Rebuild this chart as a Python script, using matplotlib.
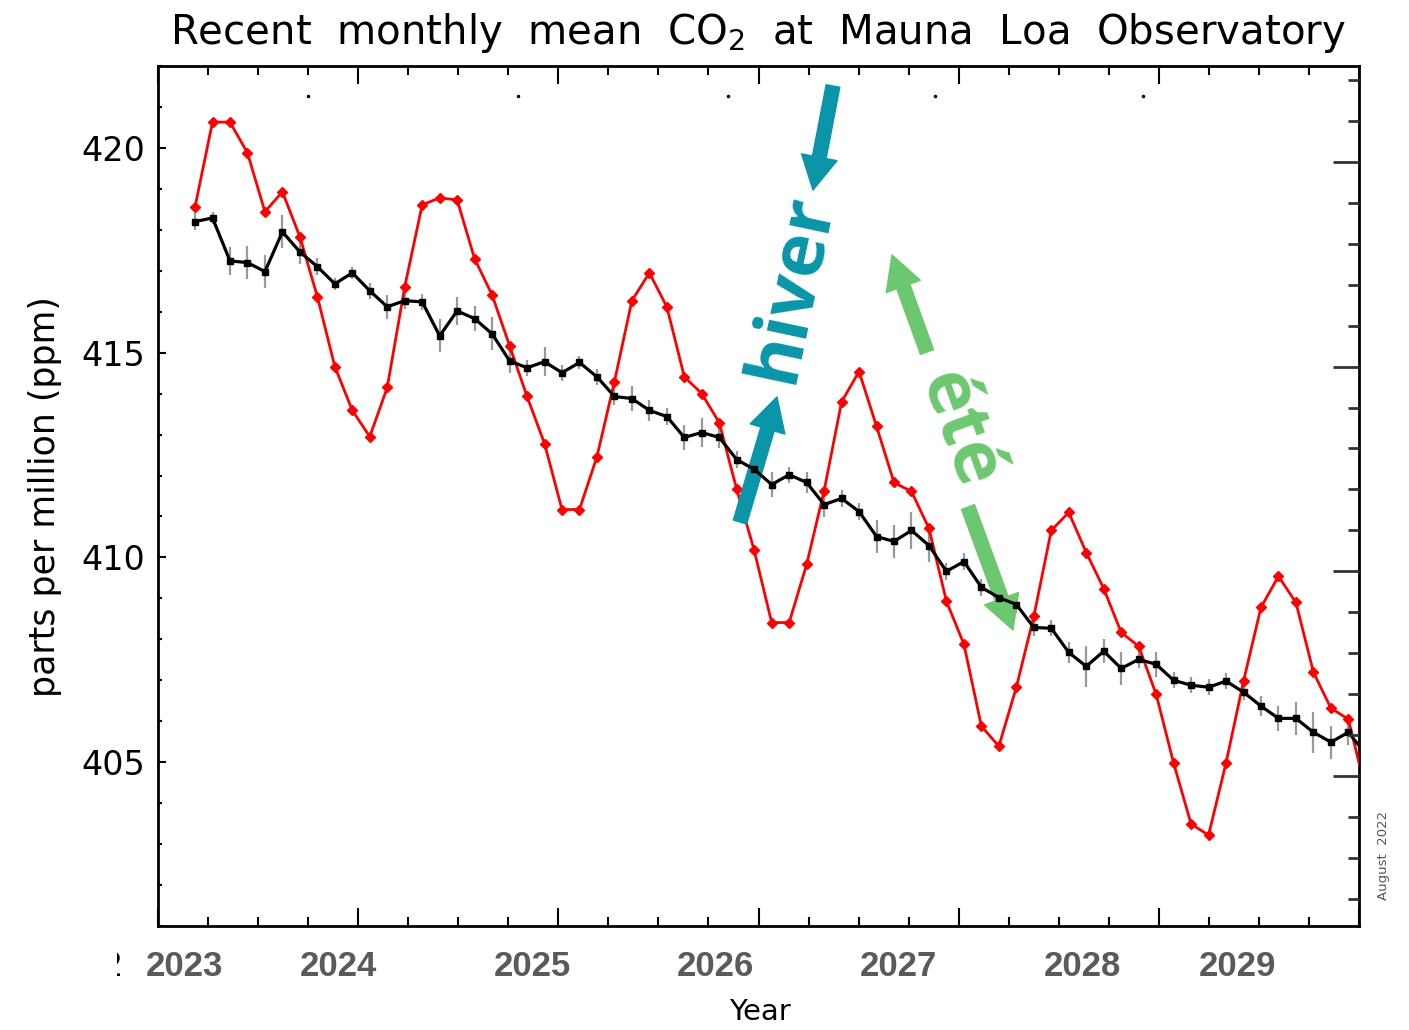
import numpy as np
import matplotlib.pyplot as plt
from matplotlib.ticker import MultipleLocator
from matplotlib.transforms import Bbox, TransformedBbox

W, H = 1409, 1030

# Monthly mean CO2 (red) and seasonally corrected trend (black), ppm
monthly_mean = [418.56, 420.63, 420.63, 419.88, 418.44, 418.93, 417.83, 416.37, 414.66, 413.59,
                412.95, 414.15, 416.61, 418.61, 418.78, 418.73, 417.29, 416.41, 415.17, 413.93,
                412.78, 411.17, 411.17, 412.46, 414.29, 416.27, 416.95, 416.12, 414.41, 414.00,
                413.29, 411.66, 410.17, 408.41, 408.41, 409.83, 411.63, 413.80, 414.54, 413.20,
                411.83, 411.61, 410.71, 408.93, 407.88, 405.88, 405.39, 406.83, 408.56, 410.66,
                411.10, 410.12, 409.24, 408.17, 407.83, 406.66, 404.98, 403.49, 403.22, 404.98,
                406.98, 408.78, 409.54, 408.90, 407.20, 406.32, 406.05, 404.30]

trend = [418.20, 418.29, 417.24, 417.20, 416.98, 417.95, 417.46, 417.10, 416.68, 416.95,
         416.51, 416.12, 416.27, 416.24, 415.41, 416.02, 415.83, 415.46, 414.80, 414.63,
         414.78, 414.51, 414.76, 414.41, 413.93, 413.88, 413.59, 413.44, 412.93, 413.05,
         412.93, 412.39, 412.15, 411.78, 412.02, 411.83, 411.29, 411.44, 411.12, 410.51,
         410.39, 410.66, 410.29, 409.66, 409.90, 409.27, 409.02, 408.85, 408.29, 408.27,
         407.68, 407.34, 407.71, 407.29, 407.51, 407.39, 407.00, 406.88, 406.83, 406.98,
         406.71, 406.37, 406.07, 406.07, 405.73, 405.49, 405.73, 405.20]

trend_err = [0.20, 0.15, 0.35, 0.40, 0.40, 0.40, 0.30, 0.20, 0.15, 0.15,
             0.20, 0.30, 0.20, 0.20, 0.40, 0.35, 0.30, 0.40, 0.30, 0.20,
             0.35, 0.20, 0.15, 0.20, 0.20, 0.30, 0.25, 0.20, 0.30, 0.35,
             0.25, 0.20, 0.20, 0.30, 0.20, 0.25, 0.30, 0.20, 0.20, 0.40,
             0.40, 0.45, 0.40, 0.20, 0.20, 0.20, 0.20, 0.20, 0.20, 0.20,
             0.25, 0.50, 0.30, 0.40, 0.20, 0.30, 0.20, 0.20, 0.20, 0.20,
             0.20, 0.25, 0.30, 0.40, 0.50, 0.40, 0.30, 0.30]

# month positions on the (mirrored) time axis, in axis-year units
first_month = 0.185
month_step = 0.0873
t = first_month + month_step * np.arange(len(monthly_mean))

# stray dots near the top of the frame
top_dot_x = [0.75, 1.80, 2.85, 3.88, 4.92]
top_dot_y = 421.27

year_labels = ["2023", "2024", "2025", "2026", "2027", "2028", "2029"]
year_label_px = [184, 338, 532, 715, 898, 1082, 1237]

TEAL = "#0a95a8"
GREEN = "#6cc870"

fig = plt.figure(figsize=(W / 100, H / 100), dpi=100)
ax = fig.add_axes([158 / W, 1 - 926 / H, (1359 - 158) / W, (926 - 66) / H])
ax.set_xlim(0, 6)
ax.set_ylim(401.0, 422.0)

ax.errorbar(t, trend, yerr=trend_err, fmt="none", ecolor="#999999", elinewidth=1.6, zorder=2)
ax.plot(t, monthly_mean, color="#ff0000", lw=2.0, marker="D", ms=5.5, zorder=3)
ax.plot(t, trend, color="black", lw=2.3, marker="s", ms=4.5, zorder=4)
ax.plot(top_dot_x, [top_dot_y] * len(top_dot_x), "k.", ms=3, zorder=4)

ax.xaxis.set_major_locator(MultipleLocator(1))
ax.xaxis.set_minor_locator(MultipleLocator(0.25))
ax.yaxis.set_major_locator(MultipleLocator(5))
ax.yaxis.set_minor_locator(MultipleLocator(1))
ax.tick_params(axis="x", which="both", direction="in", top=True, bottom=True,
               labelbottom=False, width=1.5)
ax.tick_params(axis="x", which="major", length=13)
ax.tick_params(axis="x", which="minor", length=6.5)
ax.tick_params(axis="y", which="both", direction="in", left=True, right=True, width=1.5)
ax.tick_params(axis="y", which="major", length=6, labelsize=24, pad=9)
ax.tick_params(axis="y", which="minor", length=3)
for s in ax.spines.values():
    s.set_linewidth(2)

# second, slightly shifted set of ticks on the right frame
ax2 = ax.twinx()
ax2.set_ylim(401.0 + 0.34, 422.0 + 0.34)
ax2.yaxis.set_major_locator(MultipleLocator(5))
ax2.yaxis.set_minor_locator(MultipleLocator(1))
ax2.tick_params(which="both", direction="in", labelright=False, width=2, color="#333333")
ax2.tick_params(which="major", length=19)
ax2.tick_params(which="minor", length=8)
for s in ax2.spines.values():
    s.set_visible(False)

fig.text(758 / W, 1 - 33 / H, "Recent  monthly  mean  CO$_2$  at  Mauna  Loa  Observatory",
         fontsize=29, ha="center", va="center")
fig.text(45 / W, 1 - 497 / H, "parts per million (ppm)", rotation=90,
         fontsize=25, ha="center", va="center")
fig.text(760 / W, 1 - 1012 / H, "Year", fontsize=21, ha="center", va="center")
fig.text(1383 / W, 1 - 855 / H, "August  2022", rotation=90, fontsize=9.5,
         color="#555555", ha="center", va="center")

frag = fig.text(112 / W, 1 - 967 / H, "2", fontsize=24, ha="center", va="center")
frag.set_clip_box(TransformedBbox(Bbox([[117 / W, 0], [1, 1]]), fig.transFigure))
frag.set_clip_on(True)

for lab, px in zip(year_labels, year_label_px):
    fig.text(px / W, 1 - 967 / H, lab, fontsize=25, fontweight="bold",
             family="Liberation Sans", color="#5a5a5a", ha="center", va="center")


def arrow(tail, tip, color):
    ax.annotate("", xy=(tip[0], H - tip[1]), xycoords="figure pixels",
                xytext=(tail[0], H - tail[1]), textcoords="figure pixels",
                arrowprops=dict(arrowstyle="simple,head_width=2.6,head_length=2.4,tail_width=1.0",
                                mutation_scale=10, color=color, shrinkA=0, shrinkB=0))


arrow((740, 522), (777, 397), TEAL)
arrow((833, 86), (813, 190), TEAL)
arrow((927, 352), (892, 255), GREEN)
arrow((968, 507), (1013, 630), GREEN)

fig.text(792 / W, 1 - 288 / H, "hiver", rotation=78, fontsize=53, family="Open Sans",
         fontweight="bold", color=TEAL, ha="center", va="center", rotation_mode="anchor")
fig.text(958 / W, 1 - 430 / H, "été", rotation=-70, fontsize=53, family="Open Sans",
         fontweight="bold", color=GREEN, ha="center", va="center", rotation_mode="anchor")

fig.savefig("out.png", dpi=100)
